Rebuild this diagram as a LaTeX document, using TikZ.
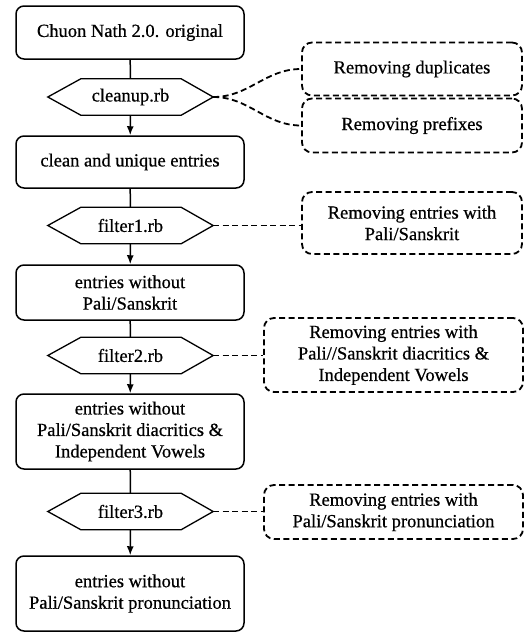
\documentclass[tikz,border=0pt]{standalone}
\usepackage{fontspec}
\setmainfont{Liberation Serif}[FakeBold=0.6]
\usetikzlibrary{arrows.meta,calc}
\begin{document}
\begin{tikzpicture}[x=1pt,y=-1pt,
  every node/.style={font=\fontsize{18.5}{21.5}\selectfont, align=center, inner sep=0pt},
  mainbox/.style={draw, line width=1.5pt, rounded corners=8pt, minimum width=228pt},
  hexnode/.style={minimum width=165pt, minimum height=36pt},
  notebox/.style={draw, line width=1.8pt, dash pattern=on 6pt off 3.5pt, rounded corners=10pt},
  link/.style={line width=1.5pt},
  arr/.style={line width=1.5pt, -{Latex[length=9pt,width=7pt]}},
  note/.style={line width=1.8pt, dash pattern=on 6pt off 3.5pt}
]
\useasboundingbox (0,0) rectangle (527,633);
% main boxes
\node[mainbox, minimum height=53pt] (b1) at (130,32.5) {Chuon Nath 2.0. original};
\node[mainbox, minimum height=52pt] (b2) at (130,162) {clean and unique entries};
\node[mainbox, minimum height=55pt] (b3) at (130,292.5) {entries without\\Pali/Sanskrit};
\node[mainbox, minimum height=75pt] (b4) at (130,431.5) {entries without\\Pali/Sanskrit diacritics \&\\Independent Vowels};
\node[mainbox, minimum height=75pt] (b5) at (130,593.5) {entries without\\Pali/Sanskrit pronunciation};
% hexagons
\node[hexnode] (h1) at (130.5,97) {cleanup.rb};
\node[hexnode] (h2) at (130.5,225.5) {filter1.rb};
\node[hexnode] (h3) at (130.5,355.5) {filter2.rb};
\node[hexnode] (h4) at (130.5,511.5) {filter3.rb};
\foreach \h in {h1,h2,h3,h4}{
  \draw[line width=1.3pt, line join=miter] (\h.west) -- ([xshift=33pt]\h.north west) -- ([xshift=-32pt]\h.north east) -- (\h.east) -- ([xshift=-32pt]\h.south east) -- ([xshift=33pt]\h.south west) -- cycle;
}
% note boxes
\node[notebox, minimum width=220pt, minimum height=53pt] (d1) at (412,69) {Removing duplicates};
\node[notebox, minimum width=220pt, minimum height=54pt] (d2) at (412,125.5) {Removing prefixes};
\node[notebox, minimum width=220pt, minimum height=62pt] (d3) at (412,223) {Removing entries with\\Pali/Sanskrit};
\node[notebox, minimum width=259pt, minimum height=74pt] (d4) at (393.5,355) {Removing entries with\\Pali//Sanskrit diacritics \&\\Independent Vowels};
\node[notebox, minimum width=259pt, minimum height=54pt] (d5) at (393.5,512) {Removing entries with\\Pali/Sanskrit pronunciation};
% flow
\draw[link] (b1) -- (h1);
\draw[arr] (h1) -- (b2);
\draw[link] (b2) -- (h2);
\draw[arr] (h2) -- (b3);
\draw[link] (b3) -- (h3);
\draw[arr] (h3) -- (b4);
\draw[link] (b4) -- (h4);
\draw[arr] (h4) -- (b5);
% notes
\draw[note] (h1.east) to[out=0,in=180] (d1.west);
\draw[note] (h1.east) to[out=0,in=180] (d2.west);
\draw[note] (h2.east) -- (h2.east -| d3.west);
\draw[note] (h3.east) -- (h3.east -| d4.west);
\draw[note] (h4.east) -- (h4.east -| d5.west);
\end{tikzpicture}
\end{document}
